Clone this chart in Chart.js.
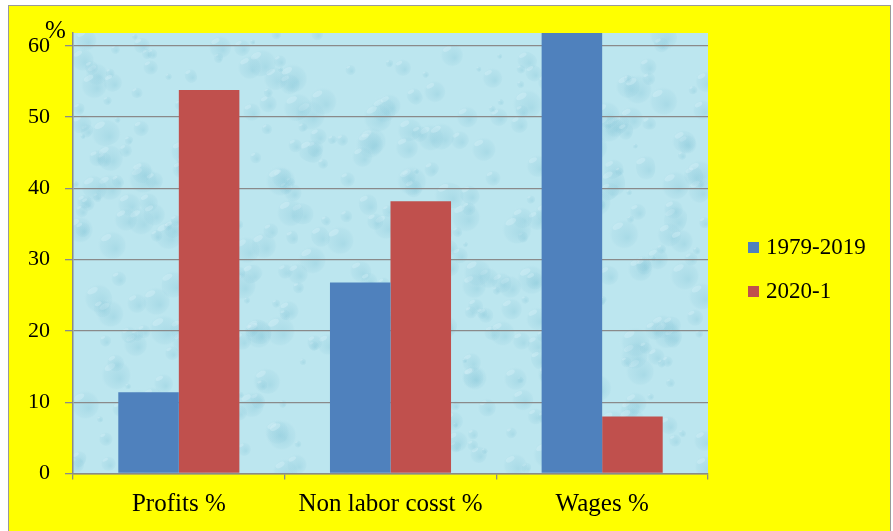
<!DOCTYPE html>
<html>
<head>
<meta charset="utf-8">
<script src="https://cdn.jsdelivr.net/npm/chart.js@4.4.1/dist/chart.umd.min.js"></script>
<style>
  html, body { margin: 0; padding: 0; background: #ffffff; }
  #wrap { position: relative; width: 893px; height: 531px; overflow: hidden; background: #ffffff; }
  #frame { position: absolute; left: 8px; top: 5px; width: 883px; height: 540px; background: #ffff00; border: 1px solid #9a9a9a; box-sizing: border-box; }
  #chart { position: absolute; left: 0; top: 0; }
  .legend { position: absolute; left: 748px; font-family: "Liberation Serif", "DejaVu Serif", serif; font-size: 23px; color: #000; }
  .legend .item { position: absolute; white-space: nowrap; }
  .legend .sw { position: absolute; width: 11px; height: 11px; }
  .legend .tx { position: absolute; left: 18px; line-height: 24px; }
  #pct { position: absolute; left: 45px; top: 16px; font-family: "Liberation Serif", "DejaVu Serif", serif; font-size: 25px; color: #000; }
</style>
</head>
<body>
<div id="wrap">
  <div id="frame"></div>
  <canvas id="chart" width="893" height="531"></canvas>
  <div id="pct">%</div>
  <div class="legend" id="legend"></div>
</div>
<script>
// ---- data ----
const categories = ["Profits %", "Non labor cosst %", "Wages %"];
const seriesNames = ["1979-2019", "2020-1"];
const values1979_2019 = [11.4, 26.8, 61.8];
const values2020_1 = [53.8, 38.2, 8.0];
const yTicks = [0, 10, 20, 30, 40, 50, 60];
const seriesColors = ["#4f81bd", "#c0504d"];

// ---- texture plugin (decorative background of plot area) ----
function hash(n) { const s = Math.sin(n * 127.1 + 311.7) * 43758.5453; return s - Math.floor(s); }
const texturePlugin = {
  id: 'texture',
  beforeDraw(chart) {
    const { ctx, chartArea: a } = chart;
    ctx.save();
    ctx.beginPath();
    ctx.rect(a.left, a.top, a.right - a.left, a.bottom - a.top);
    ctx.clip();
    ctx.fillStyle = '#bce6ef';
    ctx.fillRect(a.left, a.top, a.right - a.left, a.bottom - a.top);
    const w = a.right - a.left, h = a.bottom - a.top;
    for (let i = 0; i < 500; i++) {
      const x = a.left + hash(i) * w;
      const y = a.top + hash(i + 1000) * h;
      const r = 3 + hash(i + 2000) * 14;
      const g = ctx.createRadialGradient(x + r * 0.25, y + r * 0.25, r * 0.05, x, y, r);
      g.addColorStop(0, 'rgba(120,190,210,0.28)');
      g.addColorStop(0.75, 'rgba(140,200,218,0.12)');
      g.addColorStop(1, 'rgba(220,245,250,0.0)');
      ctx.fillStyle = g;
      ctx.beginPath();
      ctx.ellipse(x, y, r, r * (0.7 + hash(i + 3000) * 0.5), hash(i + 4000) * 3, 0, Math.PI * 2);
      ctx.fill();
      // soft highlight
      ctx.fillStyle = 'rgba(235,252,255,0.25)';
      ctx.beginPath();
      ctx.ellipse(x - r * 0.35, y - r * 0.45, r * 0.35, r * 0.18, -0.5, 0, Math.PI * 2);
      ctx.fill();
    }
    ctx.restore();
  }
};

const ctx = document.getElementById('chart').getContext('2d');
const chart = new Chart(ctx, {
  type: 'bar',
  data: {
    labels: categories,
    datasets: [
      { label: seriesNames[0], data: values1979_2019, backgroundColor: seriesColors[0], borderWidth: 0 },
      { label: seriesNames[1], data: values2020_1, backgroundColor: seriesColors[1], borderWidth: 0 }
    ]
  },
  options: {
    responsive: false,
    animation: false,
    devicePixelRatio: 1,
    layout: { padding: { left: 0, right: 185, top: 33, bottom: 0 } },
    plugins: { legend: { display: false }, tooltip: { enabled: false } },
    datasets: { bar: { categoryPercentage: 0.572, barPercentage: 1.0 } },
    scales: {
      x: {
        grid: { display: true, drawOnChartArea: false, drawTicks: true, tickLength: 6, color: '#8a8a8a', lineWidth: 1.3, offset: true },
        border: { display: true, color: '#8a8a8a', width: 1.5 },
        ticks: { color: '#000', font: { family: '"Liberation Serif", serif', size: 25 }, padding: 10, maxRotation: 0 },
        afterFit(scale) { scale.height = 57.5; }
      },
      y: {
        min: 0,
        max: 61.8,
        ticks: { stepSize: 10, color: '#000', font: { family: '"Liberation Serif", serif', size: 22 }, padding: 15 },
        afterBuildTicks(scale) { scale.ticks = yTicks.map(v => ({ value: v })); },
        grid: { color: '#8a8a8a', lineWidth: 1.3, tickLength: 8, drawTicks: true },
        border: { display: true, color: '#8a8a8a', width: 1.5 },
        afterFit(scale) { scale.width = 73; }
      }
    }
  },
  plugins: [texturePlugin]
});

// ---- HTML legend built from datasets ----
const legend = document.getElementById('legend');
const swTops = [242, 286];
seriesNames.forEach((name, i) => {
  const item = document.createElement('div');
  item.className = 'item';
  item.style.top = swTops[i] + 'px';
  const sw = document.createElement('div');
  sw.className = 'sw';
  sw.style.background = seriesColors[i];
  sw.style.top = '0px';
  const tx = document.createElement('div');
  tx.className = 'tx';
  tx.style.top = '-7px';
  tx.textContent = name;
  item.appendChild(sw); item.appendChild(tx);
  legend.appendChild(item);
});
</script>
</body>
</html>
